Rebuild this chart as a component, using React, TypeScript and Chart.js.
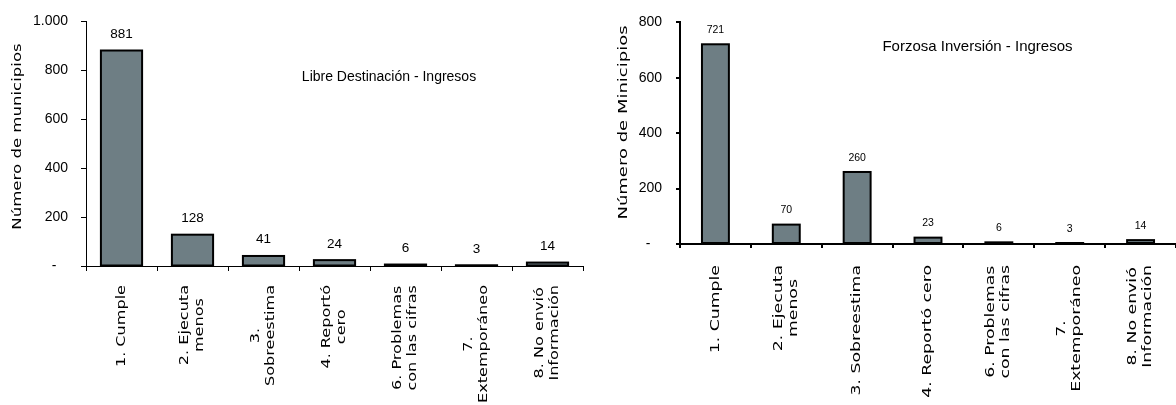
import React, { useEffect, useRef } from 'react';
import { Chart, registerables } from 'chart.js';

Chart.register(...registerables);

// ---------- data ----------
const leftCategories: string[][] = [
  ['1. Cumple'],
  ['2. Ejecuta', 'menos'],
  ['3.', 'Sobreestima'],
  ['4. Reportó', 'cero'],
  ['6. Problemas', 'con las cifras'],
  ['7.', 'Extemporáneo'],
  ['8. No envió', 'Información'],
];
const leftValues = [881, 128, 41, 24, 6, 3, 14];
const leftTickLabels = ['-   ', '200', '400', '600', '800', '1.000'];
const leftTitle = 'Libre Destinación - Ingresos';
const leftAxisTitle = 'Número de municipios';

const rightCategories: string[][] = [
  ['1. Cumple'],
  ['2. Ejecuta', 'menos'],
  ['3. Sobreestima'],
  ['4. Reportó cero'],
  ['6. Problemas', 'con las cifras'],
  ['7.', 'Extemporáneo'],
  ['8. No envió', 'Información'],
];
const rightValues = [721, 70, 260, 23, 6, 3, 14];
const rightTickLabels = ['-   ', '200', '400', '600', '800'];
const rightTitle = 'Forzosa Inversión - Ingresos';
const rightAxisTitle = 'Número de Minicipios';

// ---------- styling / layout ----------
interface PanelStyle {
  width: number;
  left: number;
  max: number;
  yAxisWidth: number;
  xAxisHeight: number;
  padTop: number;
  padRight: number;
  axisWidth: number;
  tickLen: number;
  tickPad: number;
  tickSize: number;
  barFraction: number;
  barStroke: number;
  valueSize: number;
  valueGap: number;
  titleSize: number;
  titleX: number;
  titleY: number;
  axisTitleX: number;
  axisTitleY: number;
  axisTitleStretch: number;
  labelTop: number;
  labelStretch: number;
  lineGap: number;
}

const leftStyle: PanelStyle = {
  width: 590, left: 0, max: 1000,
  yAxisWidth: 86, xAxisHeight: 139, padTop: 16, padRight: 7,
  axisWidth: 1, tickLen: 5, tickPad: 13, tickSize: 14,
  barFraction: 0.58, barStroke: 2,
  valueSize: 13.5, valueGap: 12.5,
  titleSize: 14, titleX: 389, titleY: 77,
  axisTitleX: 18, axisTitleY: 136.5, axisTitleStretch: 1.38,
  labelTop: 285, labelStretch: 1.34, lineGap: 15,
};

const rightStyle: PanelStyle = {
  width: 586, left: 590, max: 800,
  yAxisWidth: 90, xAxisHeight: 161, padTop: 15, padRight: 0,
  axisWidth: 2, tickLen: 4, tickPad: 14, tickSize: 14,
  barFraction: 0.38, barStroke: 2,
  valueSize: 10.5, valueGap: 11.3,
  titleSize: 15, titleX: 387.5, titleY: 47,
  axisTitleX: 34, axisTitleY: 122.5, axisTitleStretch: 1.5,
  labelTop: 265, labelStretch: 1.44, lineGap: 15,
};

const BAR_COLOR = '#6e7e84';
const ROT_FONT = '12px "DejaVu Sans"';

function drawRotated(ctx: CanvasRenderingContext2D, text: string, cx: number, cy: number, stretch: number) {
  ctx.save();
  ctx.translate(cx, cy);
  ctx.scale(1, stretch);
  ctx.rotate(-Math.PI / 2);
  ctx.textAlign = 'center';
  ctx.textBaseline = 'middle';
  ctx.fillText(text, 0, 0);
  ctx.restore();
}

function buildConfig(categories: string[][], values: number[], tickLabels: string[], title: string, axisTitle: string, p: PanelStyle): any {
  const overlay = {
    id: 'overlay',
    afterDatasetsDraw(chart: any) {
      const ctx: CanvasRenderingContext2D = chart.ctx;
      const meta = chart.getDatasetMeta(0);
      ctx.save();
      ctx.strokeStyle = '#000';
      ctx.lineWidth = p.barStroke;
      meta.data.forEach((bar: any) => {
        const { x, y, base, width } = bar.getProps(['x', 'y', 'base', 'width'], true);
        ctx.strokeRect(x - width / 2, y, width, base - y);
      });
      ctx.fillStyle = '#000';
      ctx.font = `${p.valueSize}px "Liberation Sans"`;
      ctx.textAlign = 'center';
      ctx.textBaseline = 'alphabetic';
      meta.data.forEach((bar: any, i: number) => {
        const v = chart.data.datasets[0].data[i];
        ctx.fillText(String(v), bar.x, bar.y - p.valueGap);
      });
      ctx.restore();
    },
    afterDraw(chart: any) {
      const ctx: CanvasRenderingContext2D = chart.ctx;
      const xScale = chart.scales.x;
      ctx.save();
      ctx.fillStyle = '#000';
      // chart title
      ctx.font = `${p.titleSize}px "Liberation Sans"`;
      ctx.textAlign = 'center';
      ctx.textBaseline = 'middle';
      ctx.fillText(title, p.titleX, p.titleY);
      // axis title
      ctx.font = ROT_FONT;
      drawRotated(ctx, axisTitle, p.axisTitleX, p.axisTitleY, p.axisTitleStretch);
      // category labels
      (chart.data.labels as string[][]).forEach((lines, i) => {
        const cx = xScale.getPixelForValue(i);
        const maxLen = Math.max(...lines.map((l) => ctx.measureText(l).width)) * p.labelStretch;
        const cy = p.labelTop + maxLen / 2;
        lines.forEach((line, j) => {
          drawRotated(ctx, line, cx + (j - (lines.length - 1) / 2) * p.lineGap, cy, p.labelStretch);
        });
      });
      ctx.restore();
    },
  };

  return {
    type: 'bar',
    data: {
      labels: categories,
      datasets: [
        {
          data: values,
          backgroundColor: BAR_COLOR,
          borderWidth: 0,
          barPercentage: p.barFraction,
          categoryPercentage: 1,
        },
      ],
    },
    options: {
      responsive: false,
      animation: false,
      devicePixelRatio: 1,
      layout: { padding: { top: p.padTop, right: p.padRight, left: 0, bottom: 0 } },
      plugins: { legend: { display: false }, tooltip: { enabled: false }, title: { display: false } },
      scales: {
        x: {
          type: 'category',
          offset: true,
          grid: { offset: true, drawOnChartArea: false, drawTicks: true, tickLength: p.tickLen, color: '#000', lineWidth: p.axisWidth },
          border: { display: true, color: '#000', width: p.axisWidth },
          ticks: { display: false },
          afterFit: (s: any) => { s.height = p.xAxisHeight; },
        },
        y: {
          min: 0,
          max: p.max,
          ticks: {
            stepSize: 200,
            padding: p.tickPad,
            color: '#000',
            font: { family: 'Liberation Sans', size: p.tickSize },
            callback: (_v: any, i: number) => tickLabels[i],
          },
          grid: { drawOnChartArea: false, drawTicks: true, tickLength: p.tickLen, color: '#000', lineWidth: p.axisWidth },
          border: { display: true, color: '#000', width: p.axisWidth },
          afterFit: (s: any) => { s.width = p.yAxisWidth; },
        },
      },
    },
    plugins: [overlay],
  };
}

function Panel(props: { categories: string[][]; values: number[]; tickLabels: string[]; title: string; axisTitle: string; style: PanelStyle }) {
  const ref = useRef<HTMLCanvasElement>(null);
  const { categories, values, tickLabels, title, axisTitle, style } = props;
  useEffect(() => {
    if (!ref.current) return;
    const chart = new Chart(ref.current, buildConfig(categories, values, tickLabels, title, axisTitle, style));
    return () => chart.destroy();
  }, []);
  return (
    <canvas
      ref={ref}
      width={style.width}
      height={405}
      style={{ position: 'absolute', left: style.left, top: 0, width: style.width, height: 405 }}
    />
  );
}

export default function App() {
  return (
    <div style={{ position: 'absolute', left: 0, top: 0, width: 1176, height: 405, background: '#fff', overflow: 'hidden' }}>
      <Panel categories={leftCategories} values={leftValues} tickLabels={leftTickLabels} title={leftTitle} axisTitle={leftAxisTitle} style={leftStyle} />
      <Panel categories={rightCategories} values={rightValues} tickLabels={rightTickLabels} title={rightTitle} axisTitle={rightAxisTitle} style={rightStyle} />
    </div>
  );
}
